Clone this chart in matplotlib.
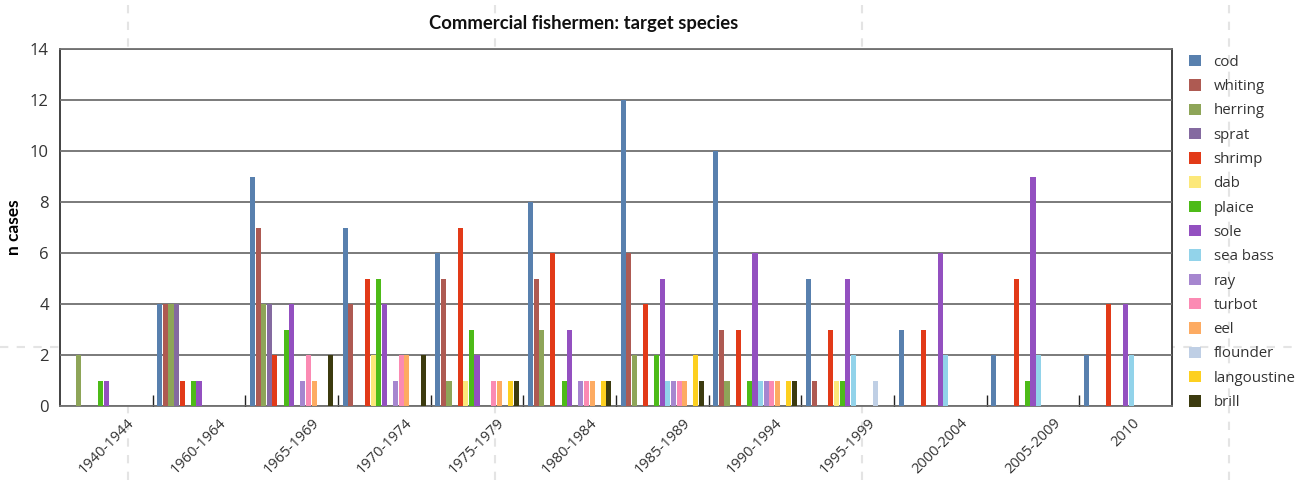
#!/usr/bin/env python

import numpy as np
import matplotlib
matplotlib.use("Agg")
from matplotlib import pyplot as plt
from matplotlib.lines import Line2D

periods = ["1940-1944", "1960-1964", "1965-1969", "1970-1974", "1975-1979",
           "1980-1984", "1985-1989", "1990-1994", "1995-1999", "2000-2004",
           "2005-2009", "2010"]

species = ["cod", "whiting", "herring", "sprat", "shrimp", "dab", "plaice",
           "sole", "sea bass", "ray", "turbot", "eel", "flounder",
           "langoustine", "brill"]

colors = ["#5880ae", "#ae5a52", "#8ea558", "#846aa0", "#e23a18", "#fce87a",
          "#4dbb18", "#9350c0", "#92d3ea", "#a686cf", "#fb8ab3", "#fdab62",
          "#bfcfe5", "#fdd020", "#3c3b0f"]

## valores por especie, un valor por periodo
cod         = [0, 4, 9, 7, 6, 8, 12, 10, 5, 3, 2, 2]
whiting     = [0, 4, 7, 4, 5, 5, 6, 3, 1, 0, 0, 0]
herring     = [2, 4, 4, 0, 1, 3, 2, 1, 0, 0, 0, 0]
sprat       = [0, 4, 4, 0, 0, 0, 0, 0, 0, 0, 0, 0]
shrimp      = [0, 1, 2, 5, 7, 6, 4, 3, 3, 3, 5, 4]
dab         = [0, 0, 0, 2, 1, 0, 0, 0, 1, 0, 0, 0]
plaice      = [1, 1, 3, 5, 3, 1, 2, 1, 1, 0, 1, 0]
sole        = [1, 1, 4, 4, 2, 3, 5, 6, 5, 6, 9, 4]
sea_bass    = [0, 0, 0, 0, 0, 0, 1, 1, 2, 2, 2, 2]
ray         = [0, 0, 1, 1, 0, 1, 1, 1, 0, 0, 0, 0]
turbot      = [0, 0, 2, 2, 1, 1, 1, 1, 0, 0, 0, 0]
eel         = [0, 0, 1, 2, 1, 1, 1, 1, 0, 0, 0, 0]
flounder    = [0, 0, 0, 0, 0, 0, 0, 0, 1, 0, 0, 0]
langoustine = [0, 0, 0, 0, 1, 1, 2, 1, 0, 0, 0, 0]
brill       = [0, 0, 2, 2, 1, 1, 1, 1, 0, 0, 0, 0]

series = [cod, whiting, herring, sprat, shrimp, dab, plaice, sole, sea_bass,
          ray, turbot, eel, flounder, langoustine, brill]


def main():
    plot_bars()
    plt.savefig("out.png", dpi=100)


def plot_bars(fig_size=(12.98, 4.80)):
    plt.rcParams["font.family"] = ["Open Sans", "DejaVu Sans"]
    fig = plt.figure(figsize=fig_size, dpi=100)
    ax = fig.add_axes([60 / 1298, 1 - 406 / 480, 1112 / 1298, 357 / 480])

    ## lineas guia punteadas del fondo
    for xp in [128, 495, 862, 1229]:
        fig.add_artist(Line2D([xp / 1298, xp / 1298], [0, 1], color="#e4e4e4",
                              lw=1.5, ls=(0, (4, 4)), zorder=0))
    fig.add_artist(Line2D([0, 1], [1 - 347 / 480, 1 - 347 / 480],
                          color="#e4e4e4", lw=1.5, ls=(0, (4, 4)), zorder=0))

    x = np.arange(len(periods))
    step = 0.0604
    offset = 0.05
    for j, (name, vals) in enumerate(zip(species, series)):
        ax.bar(x + offset + j * step, vals, width=step * 0.9, align="edge",
               color=colors[j], label=name, zorder=3)

    ax.set_xlim(0, len(periods))
    ax.set_ylim(0, 14)
    ax.set_yticks(range(0, 15, 2))
    ax.yaxis.grid(True, color="#707070", lw=1.3, zorder=1)
    ax.set_axisbelow(False)
    ax.tick_params(axis="y", length=0, labelsize=12, labelcolor="#333333", pad=8)

    ax.set_xticks(x + 0.5)
    ax.set_xticklabels(periods, rotation=45, fontsize=10.5, color="#333333")
    ax.tick_params(axis="x", length=0, pad=7)
    ax.set_xticks(x[1:], minor=True)
    ax.tick_params(axis="x", which="minor", direction="in", length=8,
                   width=1, color="#222222")

    for s in ["left", "right"]:
        ax.spines[s].set_color("#333333")
        ax.spines[s].set_linewidth(1.3)
    ax.spines["top"].set_color("#707070")
    ax.spines["top"].set_linewidth(1.3)
    ax.spines["bottom"].set_color("#707070")
    ax.spines["bottom"].set_linewidth(1.3)

    ax.set_ylabel("n cases", family=["Lato", "DejaVu Sans"], weight="bold",
                  fontsize=12.5)
    ax.yaxis.set_label_coords(-0.0342, 0.5)
    fig.text(584 / 1298, 1 - 24 / 480, "Commercial fishermen: target species",
             ha="center", va="center", family=["Lato", "DejaVu Sans"],
             weight="bold", fontsize=13.3, color="#111111")

    ax.legend(loc="upper left", bbox_to_anchor=(1.0057, 1.013), frameon=False,
              fontsize=10.8, handlelength=0.8, handleheight=0.8,
              labelspacing=0.62, handletextpad=0.85, labelcolor="#333333",
              borderaxespad=0.3)
    return fig


if __name__ == "__main__":
    main()
